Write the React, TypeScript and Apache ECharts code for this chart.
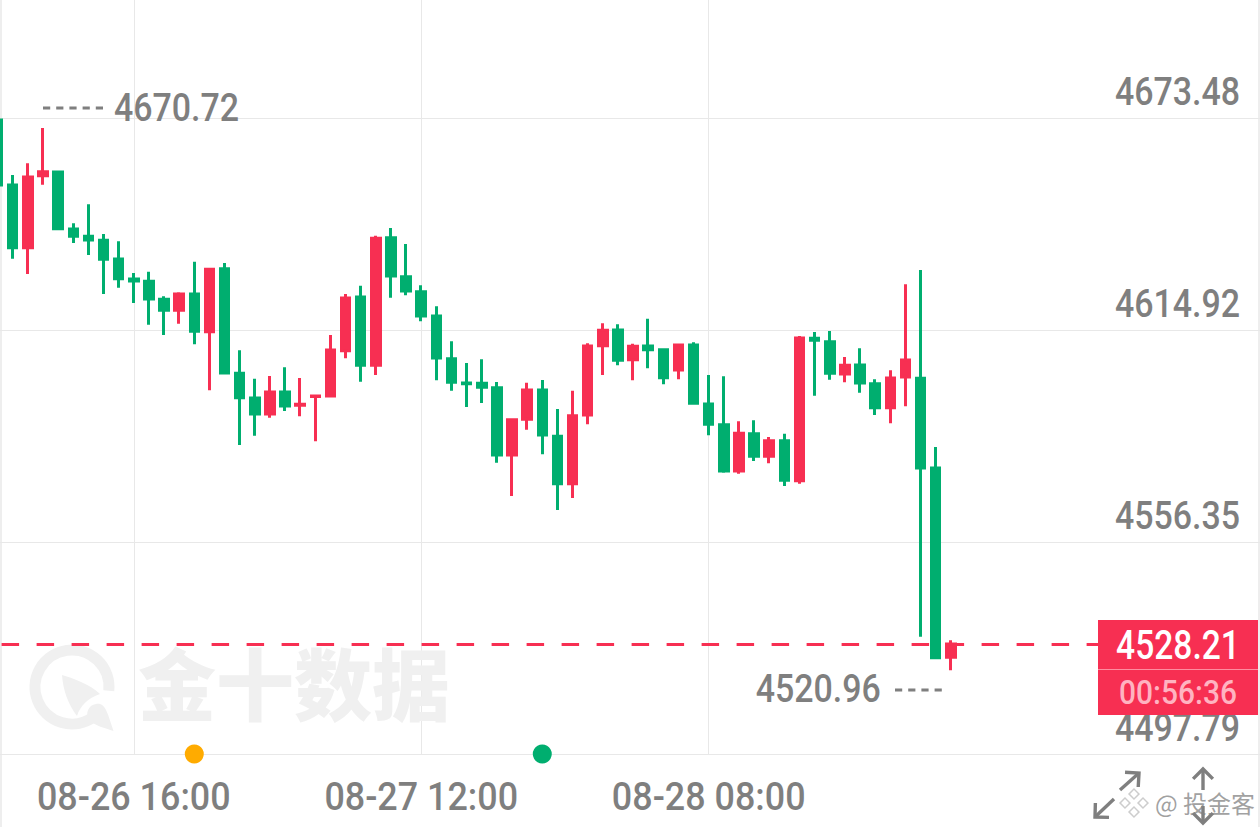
import React, { useEffect, useRef } from "react";
import * as echarts from "echarts";

const opens = [4672.93,4654.98,4637.66,4657.55,4658.57,4642.82,4640.81,4639.70,4634.54,4629.01,4628.38,4623.40,4620.37,4624.87,4614.45,4631.86,4602.96,4596.14,4591.72,4597.80,4594.12,4596.53,4596.69,4609.21,4624.04,4605.17,4640.42,4629.65,4625.50,4618.79,4607.00,4600.28,4600.20,4598.98,4580.40,4590.26,4598.35,4585.56,4572.47,4591.44,4610.59,4614.92,4606.72,4610.50,4609.48,4603.87,4610.78,4594.48,4588.77,4575.98,4586.28,4580.03,4584.34,4573.30,4612.63,4611.69,4602.77,4605.26,4600.09,4593.46,4601.94,4601.58,4576.80,4524.51];
const closes = [4654.98,4637.66,4657.19,4658.65,4642.91,4640.81,4639.78,4634.45,4629.09,4628.46,4623.49,4620.37,4624.87,4614.57,4631.69,4603.05,4596.22,4591.72,4597.80,4593.93,4594.40,4596.69,4609.40,4623.76,4605.17,4640.25,4629.84,4625.70,4618.79,4607.19,4600.48,4600.09,4599.10,4580.40,4590.15,4598.35,4585.92,4572.47,4591.25,4610.50,4614.84,4606.55,4610.42,4609.48,4601.75,4610.78,4594.68,4588.88,4575.98,4586.39,4580.03,4584.34,4573.41,4612.71,4612.08,4602.96,4605.17,4600.28,4593.46,4601.67,4606.64,4576.80,4524.41,4528.21];
const lows = [4654.98,4634.62,4630.39,4655.06,4642.74,4638.96,4635.64,4624.87,4626.61,4622.38,4616.39,4613.54,4616.66,4610.97,4598.27,4602.85,4583.16,4585.73,4590.70,4592.55,4591.09,4584.18,4596.50,4607.11,4600.64,4602.49,4623.85,4624.51,4617.33,4601.03,4598.16,4593.65,4594.76,4578.27,4569.07,4587.38,4580.59,4565.20,4568.52,4588.87,4602.49,4605.17,4601.03,4604.35,4599.92,4601.31,4594.48,4585.84,4575.51,4575.23,4578.74,4578.10,4571.83,4572.47,4596.78,4601.20,4600.48,4597.60,4591.44,4589.15,4593.85,4530.20,4524.32,4520.96];
const highs = [4672.93,4657.74,4660.97,4670.72,4658.93,4644.40,4649.65,4641.44,4639.43,4630.67,4631.03,4624.23,4625.34,4633.79,4632.05,4633.43,4609.32,4601.47,4602.22,4604.62,4601.67,4596.78,4613.54,4624.87,4627.16,4640.97,4643.10,4638.68,4627.27,4621.47,4611.80,4605.81,4606.83,4600.56,4590.53,4600.37,4601.11,4593.10,4598.16,4611.25,4616.77,4616.50,4611.14,4618.04,4609.68,4610.97,4611.53,4602.49,4602.13,4589.70,4589.98,4585.37,4586.28,4613.27,4614.37,4614.65,4607.47,4609.87,4601.31,4603.79,4627.55,4631.50,4582.61,4529.21];

const yTicks = [4497.79, 4556.35, 4614.92, 4673.48];
const yMin = 4497.79;
const yMax = 4706.08;
const lastPrice = 4528.21;
const countdown = "00:56:36";
const highPoint = { index: 3, value: 4670.72 };
const lowPoint = { index: 63, value: 4520.96 };
const xTickIndexes = [9, 28, 47];
const xTickLabels = ["08-26 16:00", "08-27 12:00", "08-28 08:00"];
const eventDots = [
  { index: 13, color: "#FFAB00" },
  { index: 36, color: "#00AE6F" },
];
const bandCount = 85;
const categories: string[] = [];
for (let i = 0; i < bandCount; i++) {
  const t = xTickIndexes.indexOf(i);
  categories.push(t >= 0 ? xTickLabels[t] : "");
}

const GREEN = "#00AE6F";
const RED = "#F72F52";
const GREY = "#7F7F7F";
const LINE = "#E8E8E8";
const WM = "#F0F0F0";
const NUM_FONT = 'Roboto, sans-serif';

const rocketPath = "M62 675 C72 678 90 684 100 694 C88 698 80 706 77 716 C68 704 63 690 62 675 Z";
const dropPath = "M113.5 731 C105 728 95 726 89 720 C85 714 88 705 96 704 C101 703 104 706 106 710 C109 716 111 724 113.5 731 Z";

function arrow(x1: number, y1: number, x2: number, y2: number, head: number) {
  const a = Math.atan2(y2 - y1, x2 - x1);
  const l = [x2 - head * Math.cos(a - Math.PI / 4), y2 - head * Math.sin(a - Math.PI / 4)];
  const r = [x2 - head * Math.cos(a + Math.PI / 4), y2 - head * Math.sin(a + Math.PI / 4)];
  const style = { stroke: GREY, lineWidth: 3.4, fill: "none" };
  return [
    { type: "line", z: 30, shape: { x1, y1, x2, y2 }, style },
    { type: "polyline", z: 30, shape: { points: [l, [x2, y2], r] }, style },
  ];
}

function numText(text: string, x: number, y: number, align: string, scaleX: number, z = 10, fill = GREY, size = 39) {
  return {
    type: "text", z, x, y, scaleX,
    style: { text, fill, align, verticalAlign: "middle", font: `500 ${size}px ${NUM_FONT}` },
  };
}

export default function App() {
  const ref = useRef<HTMLDivElement>(null);
  useEffect(() => {
    document.body.style.margin = "0";
    echarts.graphic.registerShape("wmRocket", echarts.graphic.extendPath(rocketPath, {}) as any);
    echarts.graphic.registerShape("wmDrop", echarts.graphic.extendPath(dropPath, {}) as any);
    const chart = echarts.init(ref.current!, undefined, { renderer: "svg" });
    const data = opens.map((o, i) => [o, closes[i], lows[i], highs[i]]);
    const diamonds = [
      [1134, 794], [1125, 803], [1143, 803], [1134, 812],
    ].map(([x, y]) => ({
      type: "rect", z: 31, x, y, rotation: Math.PI / 4, originX: 0, originY: 0,
      shape: { x: -3.5, y: -3.5, width: 7, height: 7 },
      style: { fill: "none", stroke: "rgba(200,200,200,0.9)", lineWidth: 1.5 },
    }));
    chart.setOption({
      animation: false,
      backgroundColor: "#ffffff",
      grid: { left: -2.4, top: 0, width: 84 * 15.13, height: 754, outerBoundsMode: "none" },
      xAxis: {
        type: "category",
        data: categories,
        boundaryGap: false,
        axisLine: { show: false },
        axisTick: { show: false },
        axisLabel: { show: false },
        splitLine: {
          show: true,
          interval: (i: number) => xTickIndexes.includes(i),
          lineStyle: { color: LINE, width: 1 },
        },
      },
      yAxis: {
        type: "value",
        position: "right",
        min: yMin,
        max: yMax,
        axisLine: { show: false },
        axisTick: { show: false, customValues: yTicks },
        axisLabel: { show: false, customValues: yTicks },
        splitLine: { show: true, lineStyle: { color: LINE, width: 1 } },
      },
      series: [
        {
          type: "candlestick",
          data,
          barWidth: 9,
          clip: false,
          z: 5,
          itemStyle: { color: RED, color0: GREEN, borderColor: RED, borderColor0: GREEN, borderWidth: 3 },
          markLine: {
            silent: true,
            symbol: "none",
            animation: false,
            label: { show: false },
            lineStyle: { color: RED, type: [17.5, 17.5], dashOffset: 30.8, width: 3 },
            data: [{ yAxis: lastPrice }],
          },
        },
        {
          type: "scatter",
          clip: false,
          z: 6,
          symbolSize: 19,
          data: eventDots.map((d) => ({
            value: [d.index, yMin],
            itemStyle: { color: d.color, opacity: 1 },
          })),
        },
      ],
    });
    const px = (i: number) => chart.convertToPixel({ xAxisIndex: 0 }, i) as number;
    const py = (v: number) => chart.convertToPixel({ yAxisIndex: 0 }, v) as number;
    chart.setOption({
      graphic: [
        { type: "line", z: 1, shape: { x1: 1, y1: 0, x2: 1, y2: 827 }, style: { stroke: LINE, lineWidth: 1.5 } },
        { type: "line", z: 1, shape: { x1: 1259, y1: 0, x2: 1259, y2: 827 }, style: { stroke: LINE, lineWidth: 1.5 } },
        // watermark
        { type: "arc", z: 0, shape: { cx: 72, cy: 687, r: 37, startAngle: 0.95, endAngle: 0.1 + Math.PI * 2 }, style: { stroke: WM, lineWidth: 11, fill: "none" } },
        { type: "wmRocket", z: 0, style: { fill: WM } },
        { type: "wmDrop", z: 0, style: { fill: WM } },
        { type: "text", z: 0, x: 138, y: 681, style: { text: "金十数据", fill: WM, font: '900 78px "Noto Sans CJK SC"', verticalAlign: "middle" } },
        // axis labels, narrowed to the reference's condensed face
        ...yTicks.map((v) => numText(v.toFixed(2), 1240, py(v) - 26, "right", 0.87)),
        ...xTickIndexes.map((i, k) => numText(xTickLabels[k], px(i), 796, "center", 0.92)),
        // extreme labels and their dashed leaders
        numText(highPoint.value.toFixed(2), px(highPoint.index) + 71, py(highPoint.value) - 20, "left", 0.87),
        numText(lowPoint.value.toFixed(2), px(lowPoint.index) - 70, py(lowPoint.value) + 19, "right", 0.87),
        { type: "line", z: 20, shape: { x1: 43, y1: 108, x2: 107, y2: 108 }, style: { stroke: GREY, lineWidth: 3, lineDash: [7.2, 6] } },
        { type: "line", z: 20, shape: { x1: 895, y1: 690, x2: 945, y2: 690 }, style: { stroke: GREY, lineWidth: 3, lineDash: [7.2, 6] } },
        // last price tag
        { type: "rect", z: 25, shape: { x: 1098, y: 620, width: 160, height: 95 }, style: { fill: RED } },
        { type: "line", z: 26, shape: { x1: 1098, y1: 669.5, x2: 1258, y2: 669.5 }, style: { stroke: "#FF8C9F", lineWidth: 1 } },
        numText(lastPrice.toFixed(2), 1178, 645, "center", 0.84, 26, "#ffffff", 40),
        numText(countdown, 1178, 692, "center", 0.88, 26, "#FFB3C1", 34),
        // zoom icons
        ...arrow(1120, 790, 1139, 773, 14),
        ...arrow(1114, 799, 1095, 817, 14),
        ...arrow(1203, 790, 1203, 769, 14),
        ...arrow(1203, 806, 1203, 823, 14),
        // footer mark
        ...diamonds,
        { type: "text", z: 31, x: 1155, y: 802, style: { text: "@ 投金客", fill: "rgba(130,130,130,0.75)", verticalAlign: "middle", font: '24px "Noto Sans CJK SC"' } },
      ],
    });
    return () => chart.dispose();
  }, []);
  return <div ref={ref} style={{ width: 1260, height: 827 }} />;
}
